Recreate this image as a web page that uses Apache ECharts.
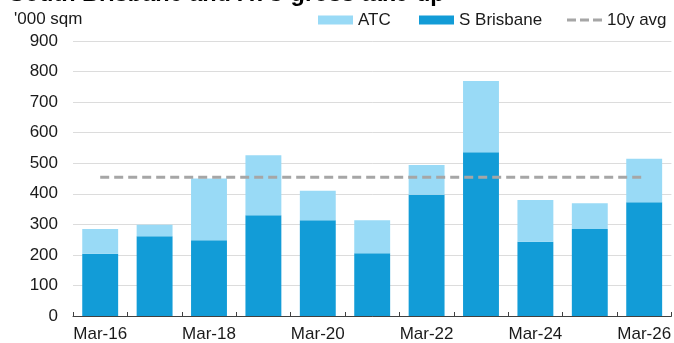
<!DOCTYPE html>
<html>
<head>
<meta charset="utf-8">
<script src="https://cdn.jsdelivr.net/npm/echarts@6/dist/echarts.min.js"></script>
<style>
  html, body { margin: 0; padding: 0; background: #fff; }
  #chart { width: 674px; height: 343px; }
</style>
</head>
<body>
<div id="chart"></div>
<script>
// Quarterly gross take-up ('000 sqm), South Brisbane and ATC
const categories = ['Mar-16', 'Mar-17', 'Mar-18', 'Mar-19', 'Mar-20', 'Mar-21',
                    'Mar-22', 'Mar-23', 'Mar-24', 'Mar-25', 'Mar-26'];
const sBrisbane = [204, 261, 248, 330, 313, 205, 397, 536, 243, 285, 372];
const atc       = [81, 38, 202, 196, 97, 108, 97, 233, 137, 84, 143];
const tenYearAvg = [454, 454, 454, 454, 454, 454, 454, 454, 454, 454, 454];
const yTicks = [0, 100, 200, 300, 400, 500, 600, 700, 800, 900];
const legendNames = ['ATC', 'S Brisbane', '10y avg'];

const FONT = 'Liberation Sans, Arial, sans-serif';
const SB_COLOR = '#129cd7';
const ATC_COLOR = '#99daf6';
const AVG_COLOR = '#a6a6a6';
const TEXT_COLOR = '#1a1a1a';

// Legend drawn as graphic elements: two swatches and a dashed line key
function legendGraphics() {
  const items = [];
  const keyY = 20;
  const entries = [
    { x: 318, name: legendNames[0], kind: 'rect', color: ATC_COLOR },
    { x: 419, name: legendNames[1], kind: 'rect', color: SB_COLOR },
    { x: 567, name: legendNames[2], kind: 'dash', color: AVG_COLOR }
  ];
  entries.forEach(function (e) {
    if (e.kind === 'rect') {
      items.push({ type: 'rect', shape: { x: e.x, y: keyY - 4.5, width: 35, height: 9 },
                   style: { fill: e.color } });
    } else {
      items.push({ type: 'line', shape: { x1: e.x, y1: keyY, x2: e.x + 35, y2: keyY },
                   style: { stroke: e.color, lineWidth: 3, lineDash: [9, 4] } });
    }
    items.push({ type: 'text', x: e.x + 40, y: keyY,
                 style: { text: e.name, font: '17px ' + FONT, fill: TEXT_COLOR, verticalAlign: 'middle' } });
  });
  return items;
}

const chart = echarts.init(document.getElementById('chart'), null, { renderer: 'canvas' });

chart.setOption({
  animation: false,
  backgroundColor: '#ffffff',
  textStyle: { fontFamily: FONT },
  graphic: [
    {
      type: 'text', left: 9, top: -17,
      style: { text: 'South Brisbane and ATC gross take-up', font: 'bold 23.5px ' + FONT, fill: '#000' }
    },
    {
      type: 'text', left: 14, top: 11,
      style: { text: "'000 sqm", font: '17px ' + FONT, fill: TEXT_COLOR }
    }
  ].concat(legendGraphics()),
  grid: { left: 73, right: 0, top: 41, bottom: 27, containLabel: false },
  xAxis: {
    type: 'category',
    data: categories,
    boundaryGap: true,
    axisLine: { lineStyle: { color: '#404040', width: 1 } },
    axisTick: { show: true, inside: true, length: 4, alignWithLabel: false, interval: 0,
                lineStyle: { color: '#404040' } },
    axisLabel: { interval: 1, fontSize: 17, color: TEXT_COLOR, margin: 10, fontFamily: FONT },
    splitLine: { show: false }
  },
  yAxis: {
    type: 'value',
    min: yTicks[0], max: yTicks[yTicks.length - 1], interval: 100,
    axisLine: { show: false },
    axisTick: { show: false },
    axisLabel: { fontSize: 17, color: TEXT_COLOR, margin: 15, fontFamily: FONT },
    splitLine: { lineStyle: { color: '#dcdcdc', width: 1 } }
  },
  series: [
    {
      name: 'S Brisbane', type: 'bar', stack: 'take-up',
      data: sBrisbane, barWidth: '66%',
      itemStyle: { color: SB_COLOR }
    },
    {
      name: 'ATC', type: 'bar', stack: 'take-up',
      data: atc, barWidth: '66%',
      itemStyle: { color: ATC_COLOR }
    },
    {
      name: '10y avg', type: 'line',
      data: tenYearAvg, symbol: 'none', z: 5,
      itemStyle: { color: AVG_COLOR },
      lineStyle: { color: AVG_COLOR, width: 3, type: [9, 5] }
    }
  ]
});
</script>
</body>
</html>
